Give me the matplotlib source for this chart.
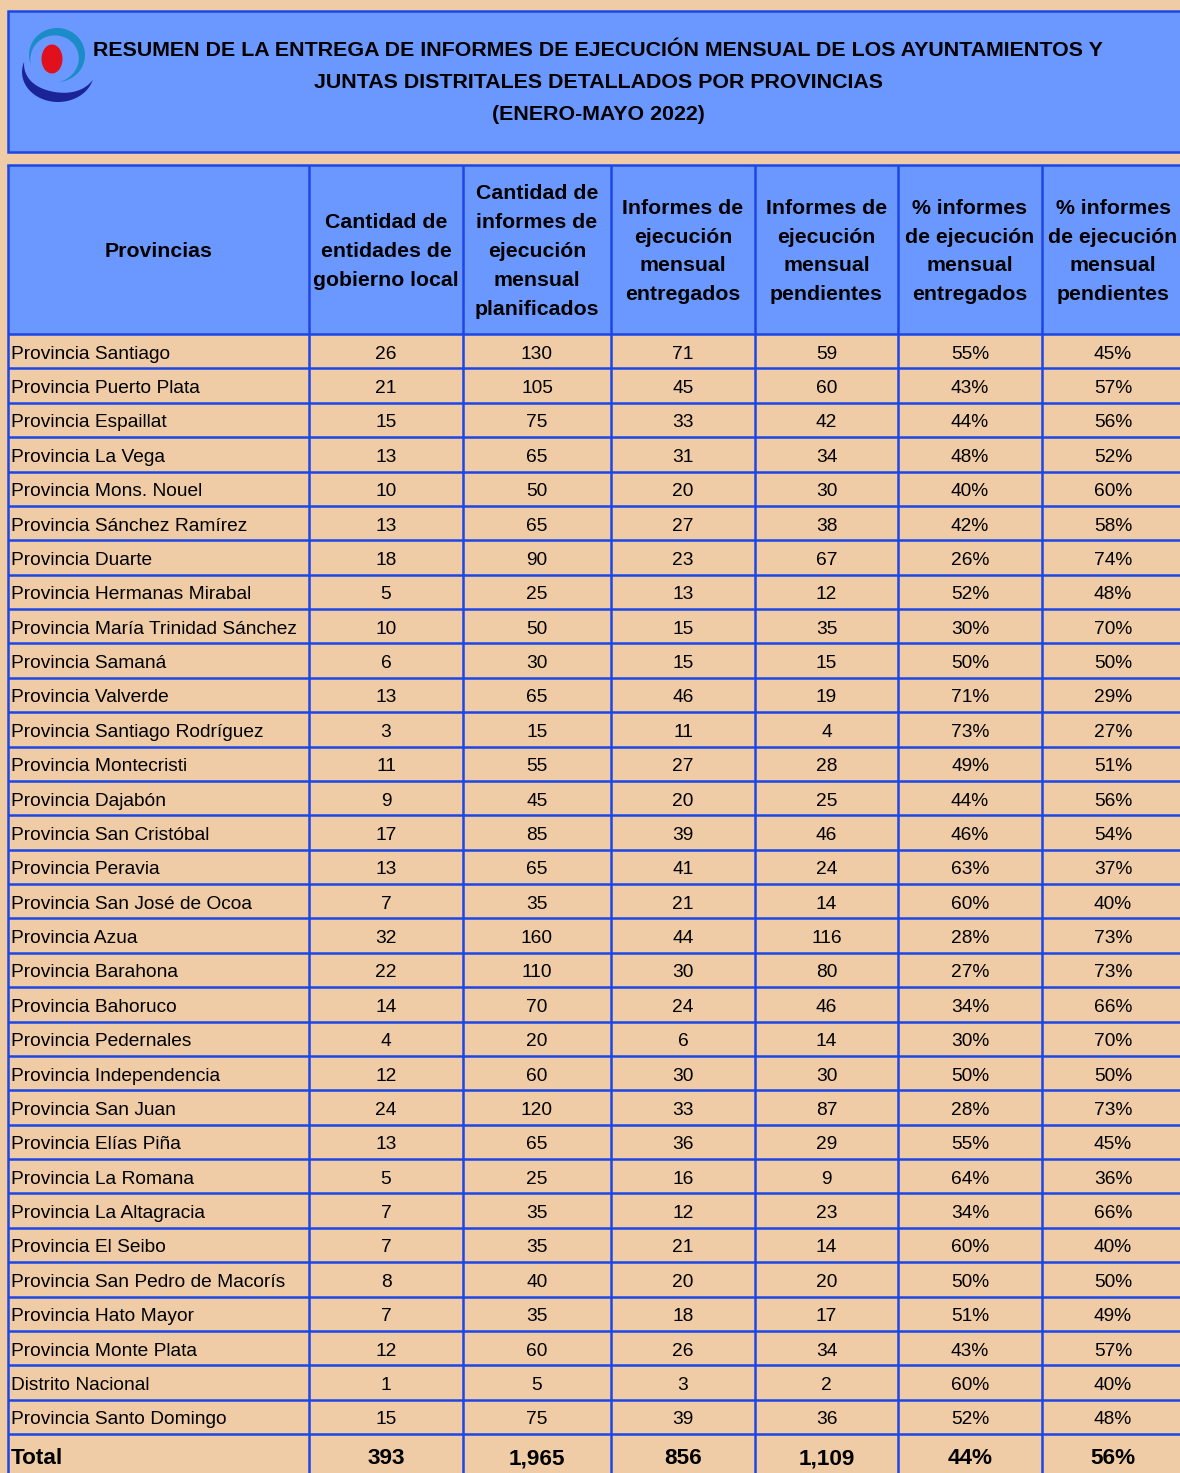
import numpy as np
import matplotlib
matplotlib.use('Agg')
import matplotlib.pyplot as plt
from matplotlib.patches import Rectangle, Ellipse, Polygon

plt.rcParams['font.family'] = ['Liberation Sans', 'DejaVu Sans']

title_lines = [
    'RESUMEN DE LA ENTREGA DE INFORMES DE EJECUCIÓN MENSUAL DE LOS AYUNTAMIENTOS Y',
    'JUNTAS DISTRITALES DETALLADOS POR PROVINCIAS',
    '(ENERO-MAYO 2022)',
]

headers = [
    'Provincias',
    'Cantidad de\nentidades de\ngobierno local',
    'Cantidad de\ninformes de\nejecución\nmensual\nplanificados',
    'Informes de\nejecución\nmensual\nentregados',
    'Informes de\nejecución\nmensual\npendientes',
    '% informes\nde ejecución\nmensual\nentregados',
    '% informes\nde ejecución\nmensual\npendientes',
]

provincias = [
    'Provincia Santiago', 'Provincia Puerto Plata', 'Provincia Espaillat',
    'Provincia La Vega', 'Provincia Mons. Nouel', 'Provincia Sánchez Ramírez',
    'Provincia Duarte', 'Provincia Hermanas Mirabal',
    'Provincia María Trinidad Sánchez', 'Provincia Samaná', 'Provincia Valverde',
    'Provincia Santiago Rodríguez', 'Provincia Montecristi', 'Provincia Dajabón',
    'Provincia San Cristóbal', 'Provincia Peravia', 'Provincia San José de Ocoa',
    'Provincia Azua', 'Provincia Barahona', 'Provincia Bahoruco',
    'Provincia Pedernales', 'Provincia Independencia', 'Provincia San Juan',
    'Provincia Elías Piña', 'Provincia La Romana', 'Provincia La Altagracia',
    'Provincia El Seibo', 'Provincia San Pedro de Macorís', 'Provincia Hato Mayor',
    'Provincia Monte Plata', 'Distrito Nacional', 'Provincia Santo Domingo',
]
entidades = [26, 21, 15, 13, 10, 13, 18, 5, 10, 6, 13, 3, 11, 9, 17, 13, 7,
             32, 22, 14, 4, 12, 24, 13, 5, 7, 7, 8, 7, 12, 1, 15]
planificados = [130, 105, 75, 65, 50, 65, 90, 25, 50, 30, 65, 15, 55, 45, 85,
                65, 35, 160, 110, 70, 20, 60, 120, 65, 25, 35, 35, 40, 35, 60, 5, 75]
entregados = [71, 45, 33, 31, 20, 27, 23, 13, 15, 15, 46, 11, 27, 20, 39, 41,
              21, 44, 30, 24, 6, 30, 33, 36, 16, 12, 21, 20, 18, 26, 3, 39]
pendientes = [59, 60, 42, 34, 30, 38, 67, 12, 35, 15, 19, 4, 28, 25, 46, 24,
              14, 116, 80, 46, 14, 30, 87, 29, 9, 23, 14, 20, 17, 34, 2, 36]
pct_entregados = [55, 43, 44, 48, 40, 42, 26, 52, 30, 50, 71, 73, 49, 44, 46,
                  63, 60, 28, 27, 34, 30, 50, 28, 55, 64, 34, 60, 50, 51, 43, 60, 52]
pct_pendientes = [45, 57, 56, 52, 60, 58, 74, 48, 70, 50, 29, 27, 51, 56, 54,
                  37, 40, 73, 73, 66, 70, 50, 73, 45, 36, 66, 40, 50, 49, 57, 40, 48]
total_row = ['Total', '393', '1,965', '856', '1,109', '44%', '56%']

# colours
BEIGE = '#EFCCA5'
BLUE_FILL = '#6B98FF'
LINE = '#1C46E6'

W, H = 1180, 1473
fig = plt.figure(figsize=(W / 100, H / 100), dpi=100, facecolor=BEIGE)
ax = fig.add_axes([0, 0, 1, 1])
ax.set_xlim(0, W)
ax.set_ylim(H, 0)
ax.axis('off')

# column borders (last one is off-canvas, only used to centre the text)
col_edges = [8, 309, 463, 611, 755, 898, 1042, 1184]
left, right = col_edges[0], 1210
title_top, title_bot = 11, 152
head_top, head_bot = 165, 334
row_h = 34.375
lw = 1.8

# title box
ax.add_patch(Rectangle((left, title_top), right - left, title_bot - title_top,
                       facecolor=BLUE_FILL, edgecolor=LINE, lw=lw))
for i, line in enumerate(title_lines):
    ax.text(598, 51 + i * 31.5, line, ha='center', va='center',
            fontsize=15.4, fontweight='bold', color='black')

# logo
ax.add_patch(Ellipse((52, 59), 21, 29, facecolor='#E0101C', edgecolor='none'))


def crescent(cx, cy, rx, ry, t0, t1, width, color):
    t = np.radians(np.linspace(t0, t1, 80))
    s = np.linspace(0, 1, 80)
    w = width * np.sin(np.pi * s)
    outer = np.column_stack([cx + rx * np.cos(t), cy - ry * np.sin(t)])
    inner = np.column_stack([cx + (rx - w) * np.cos(t), cy - (ry - w) * np.sin(t)])
    ax.add_patch(Polygon(np.vstack([outer, inner[::-1]]), closed=True,
                         facecolor=color, edgecolor='none'))


crescent(57, 55, 28, 27, 200, -85, 8, '#1C8CC8')
crescent(58, 72, 36, 30, 160, 345, 10, '#1A2496')

# header row
ax.add_patch(Rectangle((left, head_top), right - left, head_bot - head_top,
                       facecolor=BLUE_FILL, edgecolor='none'))
for j, hdr in enumerate(headers):
    xc = (col_edges[j] + col_edges[j + 1]) / 2
    ax.text(xc, (head_top + head_bot) / 2 + 2, hdr, ha='center', va='center',
            fontsize=15.3, fontweight='bold', linespacing=1.66)

# body rows
n = len(provincias)
rows = []
for i in range(n):
    rows.append([provincias[i], str(entidades[i]), str(planificados[i]),
                 str(entregados[i]), str(pendientes[i]),
                 f'{pct_entregados[i]}%', f'{pct_pendientes[i]}%'])

for i, row in enumerate(rows):
    yc = head_bot + (i + 0.5) * row_h + 3
    for j, val in enumerate(row):
        if j == 0:
            ax.text(col_edges[0] + 3, yc, val, ha='left', va='center', fontsize=13.8)
        else:
            xc = (col_edges[j] + col_edges[j + 1]) / 2
            ax.text(xc, yc, val, ha='center', va='center', fontsize=13.8)

total_top = head_bot + n * row_h
for j, val in enumerate(total_row):
    yc = total_top + 25
    if j == 0:
        ax.text(col_edges[0] + 3, yc, val, ha='left', va='center',
                fontsize=16.2, fontweight='bold')
    else:
        xc = (col_edges[j] + col_edges[j + 1]) / 2
        ax.text(xc, yc, val, ha='center', va='center', fontsize=16.2, fontweight='bold')

# grid lines
table_bot = H + 10
for x in col_edges[:-1]:
    ax.plot([x, x], [head_top, table_bot], color=LINE, lw=lw, solid_capstyle='butt')
for k in range(n + 1):
    y = head_bot + k * row_h
    ax.plot([left, right], [y, y], color=LINE, lw=lw, solid_capstyle='butt')
ax.plot([left, right], [head_top, head_top], color=LINE, lw=lw)

fig.savefig('out.png', dpi=100, facecolor=BEIGE)
